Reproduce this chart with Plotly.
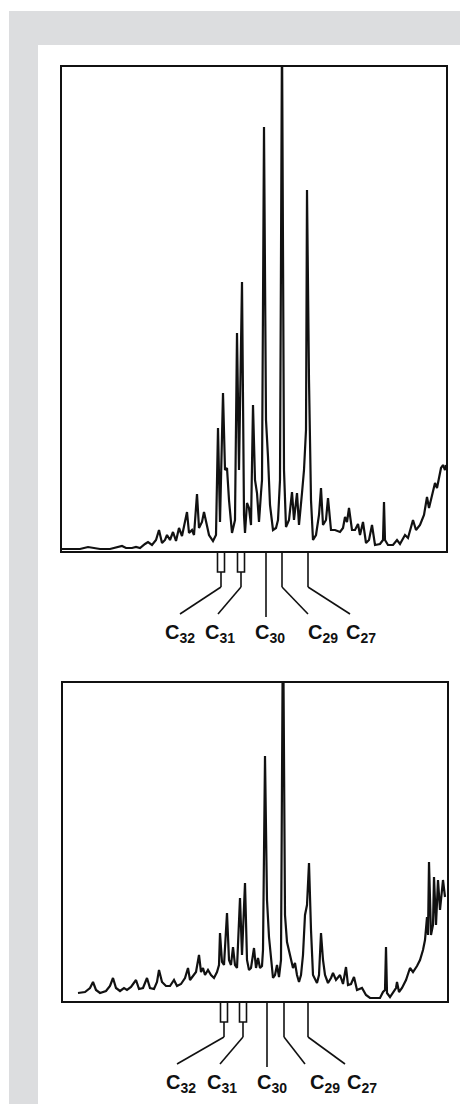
import plotly.graph_objects as go

# ---------------- data (arbitrary retention / response units) ----------------
top_x = [0, 18, 26, 31, 38, 48, 56, 60, 64, 70, 74, 78, 83, 86, 90, 94, 97, 100, 103, 105,
         108, 111, 114, 117, 120, 123, 125, 127, 130, 132, 135, 137, 140, 142, 144, 147, 151,
         154, 156, 158, 161, 163, 165, 167, 170, 173, 175, 177, 180, 182, 183, 185, 187, 189,
         191, 193, 195, 197, 199, 200, 202, 204, 206, 208, 211, 214, 216, 218, 220, 222, 224,
         227, 230, 232, 235, 237, 240, 242, 244, 245, 247, 249, 251, 254, 257, 259, 261, 264,
         266, 269, 273, 278, 281, 283, 285, 287, 290, 293, 296, 298, 301, 304, 307, 310, 313,
         318, 321, 322, 323, 326, 331, 335, 338, 343, 346, 351, 354, 358, 362, 365, 367, 370,
         373, 375, 377, 379, 381, 383, 384]
top_y = [2, 2, 4, 3, 2, 2, 4, 5, 3, 3, 4, 3, 7, 9, 6, 11, 21, 8, 11, 16,
         11, 19, 10, 23, 15, 31, 39, 18, 21, 16, 57, 23, 29, 39, 31, 16, 10,
         16, 123, 29, 158, 81, 83, 51, 18, 31, 218, 81, 269, 36, 18, 48, 43, 26,
         146, 71, 58, 29, 58, 71, 424, 131, 94, 46, 21, 23, 31, 71, 520, 81, 24,
         31, 59, 31, 58, 26, 58, 81, 121, 361, 171, 51, 11, 16, 36, 63, 26, 31,
         53, 21, 21, 19, 23, 34, 29, 43, 21, 21, 27, 16, 29, 8, 11, 26, 6,
         7, 11, 49, 11, 6, 6, 11, 7, 16, 13, 31, 21, 26, 36, 54, 43, 56,
         68, 63, 74, 83, 86, 81, 86]

bot_x = [15, 22, 27, 30, 33, 37, 43, 47, 50, 53, 57, 61, 64, 68, 73, 76, 80, 84, 87, 91,
         94, 96, 99, 103, 107, 111, 114, 118, 122, 125, 127, 130, 133, 136, 138, 140, 142,
         145, 148, 151, 154, 156, 157, 159, 161, 164, 166, 168, 170, 172, 174, 177, 179, 182,
         184, 186, 188, 191, 193, 195, 197, 199, 200, 202, 204, 206, 208, 210, 212, 214, 216,
         218, 220, 222, 224, 226, 228, 230, 232, 234, 236, 238, 240, 242, 244, 246, 248, 250,
         254, 256, 258, 260, 262, 265, 268, 270, 273, 277, 280, 283, 285, 288, 291, 294, 299,
         303, 307, 313, 317, 320, 322, 323, 324, 327, 330, 333, 334, 336, 339, 343, 347, 350,
         354, 357, 360, 362, 364, 365, 366, 368, 370, 371, 373, 375, 377, 380, 382]
bot_y = [8, 9, 13, 19, 11, 8, 10, 15, 23, 13, 10, 13, 11, 14, 21, 12, 13, 23, 13, 12,
         19, 31, 19, 15, 15, 21, 15, 17, 23, 33, 21, 25, 29, 46, 29, 33, 26,
         31, 26, 23, 29, 36, 68, 39, 36, 88, 41, 36, 54, 36, 33, 103, 46, 118,
         41, 31, 33, 53, 33, 43, 33, 35, 51, 245, 101, 64, 39, 23, 26, 36, 24,
         41, 401, 86, 59, 51, 44, 33, 38, 26, 19, 26, 46, 86, 96, 138, 71, 26,
         18, 26, 68, 41, 26, 18, 23, 28, 21, 26, 17, 34, 16, 17, 24, 11, 13,
         6, 3, 3, 3, 9, 11, 54, 8, 4, 8, 13, 19, 9, 13, 21, 33, 29,
         35, 41, 51, 61, 84, 66, 139, 66, 76, 124, 76, 121, 91, 121, 104]

labels = ["32", "31", "30", "29", "27"]
top_peak_x = [159, 179, 204, 220, 246]
top_label_x = [118, 158, 208, 261, 299]
top_line_end_x = [118, 156, 204, 246, 288]
bot_peak_x = [161, 180, 204, 221, 245]
bot_label_x = [118, 159, 209, 262, 299]
bot_line_end_x = [114, 157, 204, 242, 282]
boxed = [True, True, False, False, False]

W, H = 460, 1104


def py(p):
    return 1 - p / H


fig = go.Figure()
fig.add_trace(go.Scatter(x=top_x, y=top_y, mode="lines",
                         line=dict(color="#111111", width=2.2), xaxis="x", yaxis="y",
                         showlegend=False, hoverinfo="skip"))
fig.add_trace(go.Scatter(x=bot_x, y=bot_y, mode="lines",
                         line=dict(color="#111111", width=2.2), xaxis="x2", yaxis="y2",
                         showlegend=False, hoverinfo="skip"))

ax_common = dict(showline=True, mirror=True, linecolor="#111111", linewidth=1.7,
                 showgrid=False, zeroline=False, ticks="", showticklabels=False,
                 fixedrange=True)

shapes = [
    dict(type="rect", xref="paper", yref="paper", x0=9 / W, x1=1.0, y0=0, y1=py(11),
         fillcolor="#dcdddf", line=dict(width=0), layer="below"),
    dict(type="rect", xref="paper", yref="paper", x0=38 / W, x1=1.0, y0=0, y1=py(45),
         fillcolor="#ffffff", line=dict(width=0), layer="below"),
]
annotations = []


def add_markers(xref, peak_x, line_end_x, label_x, frame_bottom):
    lw = dict(color="#111111", width=1.6)
    for px_, ex, lx, lab, bx in zip(peak_x, line_end_x, label_x, labels, boxed):
        if bx:
            shapes.append(dict(type="rect", xref=xref, yref="paper",
                               x0=px_ - 3.5, x1=px_ + 3.5,
                               y0=py(frame_bottom + 21), y1=py(frame_bottom + 1),
                               line=lw, fillcolor="rgba(0,0,0,0)"))
            shapes.append(dict(type="line", xref=xref, yref="paper",
                               x0=px_, x1=px_, y0=py(frame_bottom + 21), y1=py(frame_bottom + 36),
                               line=lw))
        if lab == "30":
            shapes.append(dict(type="line", xref=xref, yref="paper",
                               x0=px_, x1=px_, y0=py(frame_bottom), y1=py(frame_bottom + 66),
                               line=lw))
        else:
            if not bx:
                shapes.append(dict(type="line", xref=xref, yref="paper",
                                   x0=px_, x1=px_, y0=py(frame_bottom), y1=py(frame_bottom + 36),
                                   line=lw))
            shapes.append(dict(type="line", xref=xref, yref="paper",
                               x0=px_, x1=ex, y0=py(frame_bottom + 36), y1=py(frame_bottom + 63),
                               line=lw))
        annotations.append(dict(xref=xref, yref="paper", x=lx, y=py(frame_bottom + 68),
                                xanchor="center", yanchor="top", showarrow=False,
                                text="<b>C<sub>%s</sub></b>" % lab,
                                font=dict(family="Liberation Sans, Arial, sans-serif",
                                          size=20, color="#111111")))


add_markers("x", top_peak_x, top_line_end_x, top_label_x, 551)
add_markers("x2", bot_peak_x, bot_line_end_x, bot_label_x, 1001)

fig.update_layout(
    width=W, height=H, margin=dict(l=0, r=0, t=0, b=0),
    paper_bgcolor="#ffffff", plot_bgcolor="rgba(0,0,0,0)",
    xaxis=dict(domain=[62 / W, 446 / W], range=[0, 384], anchor="y", **ax_common),
    yaxis=dict(domain=[py(551), py(67)], range=[0, 484], anchor="x", **ax_common),
    xaxis2=dict(domain=[63 / W, 447 / W], range=[0, 384], anchor="y2", **ax_common),
    yaxis2=dict(domain=[py(1001), py(683)], range=[0, 318], anchor="x2", **ax_common),
    shapes=shapes, annotations=annotations, showlegend=False,
)

fig.write_html("out.html", config={"displayModeBar": False},
               post_script="document.body.style.margin='0';document.body.style.overflow='hidden';")
